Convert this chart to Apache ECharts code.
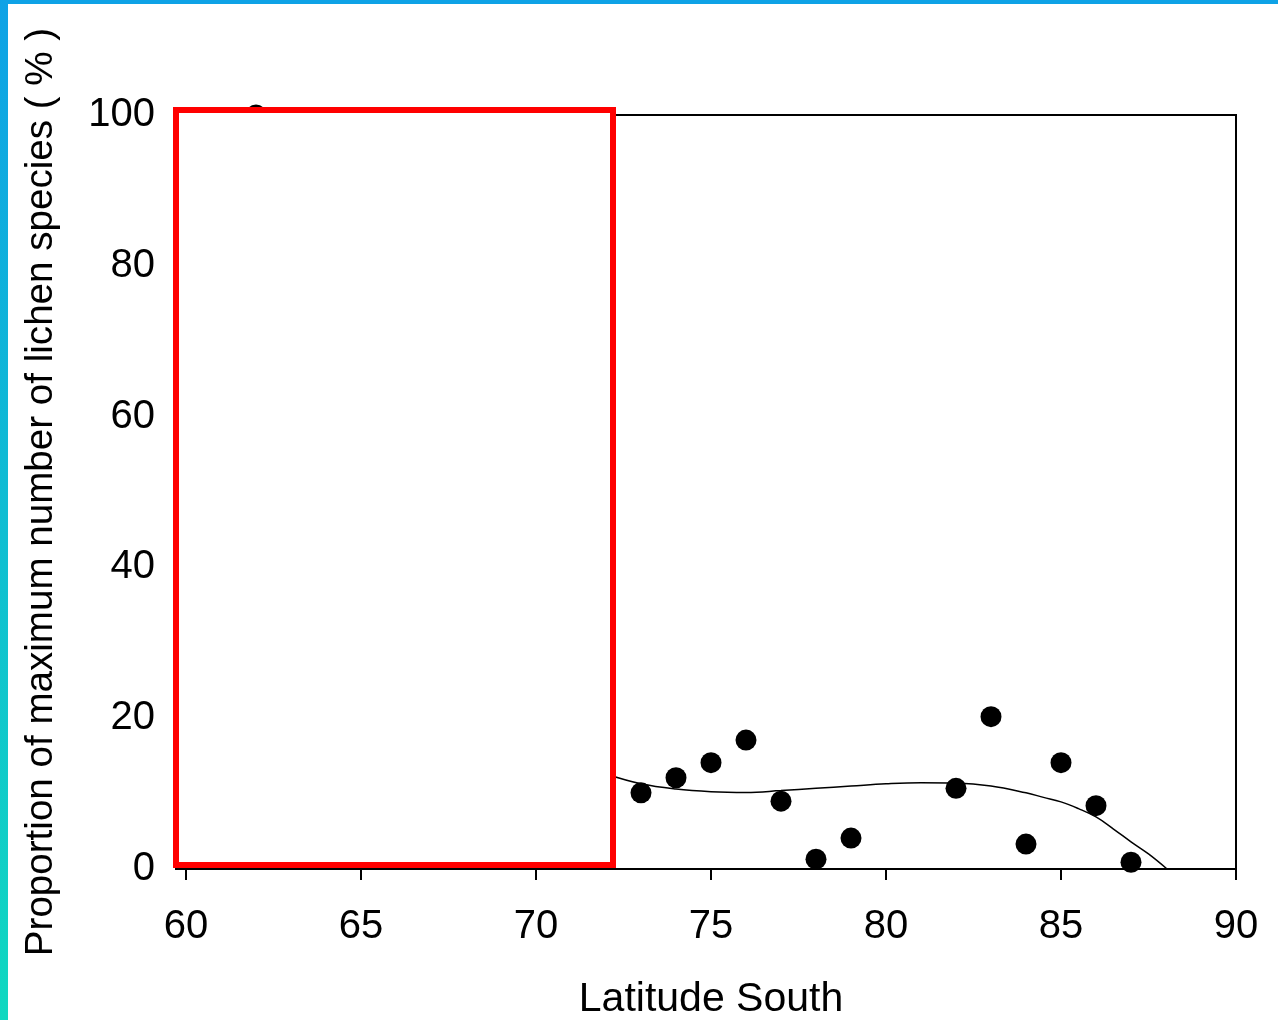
<!DOCTYPE html>
<html>
<head>
<meta charset="utf-8">
<script src="https://cdn.jsdelivr.net/npm/echarts@6/dist/echarts.min.js"></script>
<style>
  html, body { margin: 0; padding: 0; background: #fff; }
  #chart { width: 1278px; height: 1020px; }
</style>
</head>
<body>
<div id="chart"></div>
<script>
// 观测点 (纬度, 比例%)
var latitudes = [62, 73, 74, 75, 76, 77, 78, 79, 82, 83, 84, 85, 86, 87];
var proportions = [100, 10.1, 12.1, 14.1, 17.1, 9.0, 1.3, 4.1, 10.7, 20.2, 3.3, 14.1, 8.4, 0.9];

// 拟合曲线
var fitLat = [72, 73, 74, 75, 76, 77, 78, 79, 80, 81, 82, 83, 84, 84.5, 85, 85.5, 86, 86.5, 87, 87.5, 88.03];
var fitVal = [12.6, 11.3, 10.6, 10.25, 10.15, 10.4, 10.7, 11.0, 11.3, 11.45, 11.4, 11.0, 10.1, 9.5, 8.9, 8.0, 6.9, 5.3, 3.6, 2.0, 0];

var xTicks = { min: 60, max: 90, interval: 5 };
var yTicks = { min: 0, max: 100, interval: 20 };

var chart = echarts.init(document.getElementById('chart'));

var font = 'Liberation Sans, Arial, sans-serif';

var option = {
    animation: false,
    backgroundColor: '#fff',
    grid: {
        left: 186,
        right: 42,
        top: 115,
        bottom: 151,
        outerBoundsMode: 'none',
        containLabel: false,
        show: true,
        borderColor: '#000',
        borderWidth: 2
    },
    xAxis: {
        type: 'value',
        min: xTicks.min,
        max: xTicks.max,
        interval: xTicks.interval,
        name: 'Latitude South',
        nameLocation: 'middle',
        nameGap: 110,
        nameTextStyle: { color: '#000', fontSize: 41, fontFamily: font },
        axisLine: { lineStyle: { color: '#000', width: 2 } },
        axisTick: { show: true, length: 11, lineStyle: { color: '#000', width: 2 } },
        axisLabel: { color: '#000', fontSize: 40, fontFamily: font, margin: 38 },
        splitLine: { show: false }
    },
    yAxis: {
        type: 'value',
        min: yTicks.min,
        max: yTicks.max,
        interval: yTicks.interval,
        name: 'Proportion of maximum number of lichen species ( % )',
        nameLocation: 'middle',
        nameGap: 125,
        nameRotate: 90,
        nameTextStyle: { color: '#000', fontSize: 38.6, fontFamily: font },
        axisLine: { show: true, lineStyle: { color: '#000', width: 2 } },
        axisTick: { show: true, length: 11, lineStyle: { color: '#000', width: 2 } },
        axisLabel: { color: '#000', fontSize: 40, fontFamily: font, margin: 31 },
        splitLine: { show: false }
    },
    series: [
        {
            type: 'line',
            data: fitLat.map(function (x, i) { return [x, fitVal[i]]; }),
            smooth: 0.4,
            showSymbol: false,
            lineStyle: { color: '#000', width: 1.5 },
            z: 2
        },
        {
            type: 'scatter',
            data: latitudes.map(function (x, i) { return [x, proportions[i]]; }),
            symbolSize: 21,
            itemStyle: { color: '#000', opacity: 1 },
            z: 3
        }
    ],
    graphic: [
        {
            type: 'rect',
            shape: { x: 176, y: 110, width: 437, height: 755 },
            style: { fill: '#fff', stroke: '#ff0000', lineWidth: 6 },
            z: 100
        },
        {
            type: 'rect',
            shape: { x: 0, y: 0, width: 1278, height: 4 },
            style: { fill: '#0ea2e6' },
            z: 100
        },
        {
            type: 'rect',
            shape: { x: 0, y: 0, width: 8, height: 1020 },
            style: {
                fill: new echarts.graphic.LinearGradient(0, 0, 0, 1, [
                    { offset: 0, color: '#0ea2e6' },
                    { offset: 1, color: '#10d8c0' }
                ])
            },
            z: 100
        }
    ]
};

chart.setOption(option);
</script>
</body>
</html>
